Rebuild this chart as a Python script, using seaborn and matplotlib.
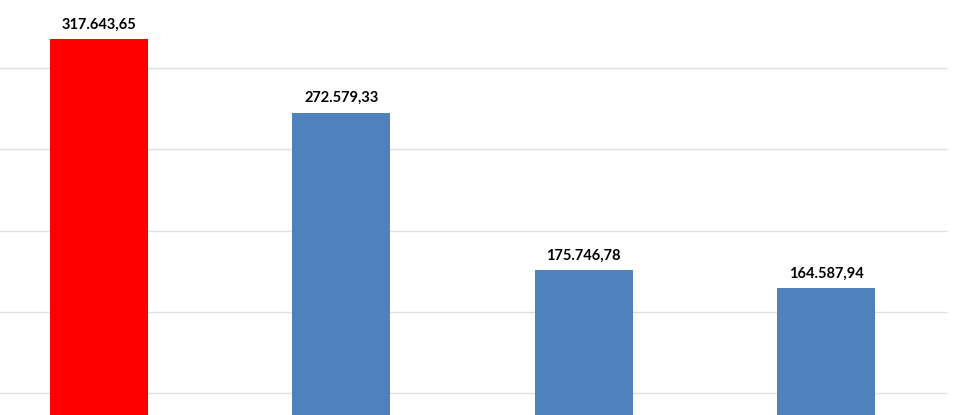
import matplotlib
matplotlib.use("Agg")
import matplotlib.pyplot as plt
import seaborn as sns
import pandas as pd

# data
categories = ["Cat 1", "Cat 2", "Cat 3", "Cat 4"]
values = [317643.65, 272579.33, 175746.78, 164587.94]
bar_colors = ["#FF0000", "#4F81BD", "#4F81BD", "#4F81BD"]
grid_ticks = [100000, 150000, 200000, 250000, 300000]


def fmt_eu(v: float) -> str:
    s = f"{v:,.2f}"
    return s.replace(",", "X").replace(".", ",").replace("X", ".")


def main():
    sns.set_theme(style="white")
    plt.rcParams["font.family"] = ["Lato", "DejaVu Sans"]

    df = pd.DataFrame({"category": categories, "value": values})

    fig = plt.figure(figsize=(9.71, 4.15), dpi=100)
    ax = fig.add_axes([0, 0, 1, 1])

    ax.hlines(grid_ticks, -0.5, 3.5, colors="#DEDEDE", linewidth=1.0, zorder=0)

    sns.barplot(data=df, x="category", y="value", hue="category",
                palette=bar_colors, width=0.404, legend=False,
                saturation=1, linewidth=0, ax=ax, zorder=2)

    for i, v in enumerate(values):
        ax.annotate(fmt_eu(v), (i, v), xytext=(0, 7.5), textcoords="offset points",
                    ha="center", va="baseline", fontsize=10.5, color="black",
                    fontweight="bold")

    ax.set_xlim(-0.409, 3.598)
    ax.set_ylim(86500, 341800)
    ax.set_axis_off()

    fig.savefig("out.png", dpi=100)
    plt.close(fig)


if __name__ == "__main__":
    main()
